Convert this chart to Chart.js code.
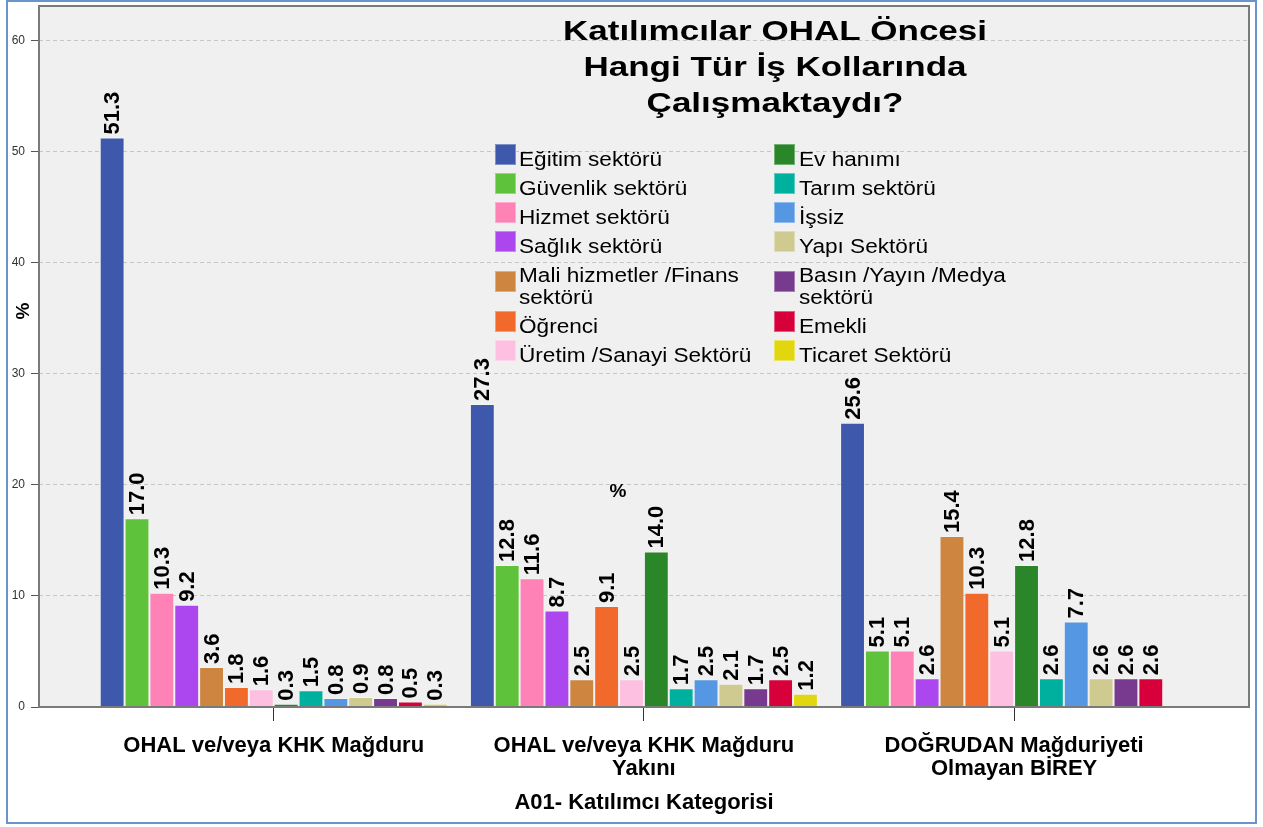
<!DOCTYPE html>
<html>
<head>
<meta charset="utf-8">
<script src="https://cdn.jsdelivr.net/npm/chart.js@4"></script>
<style>
  html, body { margin: 0; padding: 0; background: #fff; }
  #wrap { width: 1263px; height: 827px; }
</style>
</head>
<body>
<div id="wrap"><canvas id="isChart" width="1263" height="827"></canvas></div>
<script>
// Kategoriler (x ekseni)
const groupLabels = [
    ["OHAL ve/veya KHK Mağduru"],
    ["OHAL ve/veya KHK Mağduru", "Yakını"],
    ["DOĞRUDAN Mağduriyeti", "Olmayan BİREY"]
];
const yTicks = [0, 10, 20, 30, 40, 50, 60];

// Seriler (%), her biri üç kategori için
const seriesNames = [
    "Eğitim sektörü", "Güvenlik sektörü", "Hizmet sektörü", "Sağlık sektörü",
    "Mali hizmetler /Finans sektörü", "Öğrenci", "Üretim /Sanayi Sektörü",
    "Ev hanımı", "Tarım sektörü", "İşsiz", "Yapı Sektörü",
    "Basın /Yayın /Medya sektörü", "Emekli", "Ticaret Sektörü"
];
const egitim   = [51.3, 27.3, 25.6];
const guvenlik = [17.0, 12.8, 5.1];
const hizmet   = [10.3, 11.6, 5.1];
const saglik   = [9.2, 8.7, 2.6];
const mali     = [3.6, 2.5, 15.4];
const ogrenci  = [1.8, 9.1, 10.3];
const uretim   = [1.6, 2.5, 5.1];
const evHanimi = [0.3, 14.0, 12.8];
const tarim    = [1.5, 1.7, 2.6];
const issiz    = [0.8, 2.5, 7.7];
const yapi     = [0.9, 2.1, 2.6];
const basin    = [0.8, 1.7, 2.6];
const emekli   = [0.5, 2.5, 2.6];
const ticaret  = [0.3, 1.2, null];

const seriesValues = [egitim, guvenlik, hizmet, saglik, mali, ogrenci, uretim,
                      evHanimi, tarim, issiz, yapi, basin, emekli, ticaret];
const seriesColors = [
    "#3e58ac", "#5ec33a", "#fe82b6", "#ac47ef", "#cd853f", "#f2692c", "#fdc0e0",
    "#2a8629", "#00b09f", "#5597e2", "#cfca90", "#783a8f", "#d8003a", "#e2d70f"
];

const chartTitle = ["Katılımcılar OHAL Öncesi", "Hangi Tür İş Kollarında", "Çalışmaktaydı?"];
const xTitle = "A01- Katılımcı Kategorisi";
const FONT = "'Liberation Sans', Arial, sans-serif";

// stretched text helper (SPSS renders text a little wider)
function wideText(ctx, text, x, y, sx) {
    ctx.save();
    ctx.translate(x, y);
    ctx.scale(sx, 1);
    ctx.fillText(text, 0, 0);
    ctx.restore();
}

function wrapLabel(ctx, text, maxW, sx) {
    const words = text.split(" ");
    const lines = [];
    let cur = "";
    words.forEach(w => {
        const test = cur ? cur + " " + w : w;
        if (ctx.measureText(test).width * sx > maxW && cur) {
            lines.push(cur);
            cur = w;
        } else {
            cur = test;
        }
    });
    lines.push(cur);
    return lines;
}

const decorPlugin = {
    id: "decor",
    beforeDraw(chart) {
        const { ctx, chartArea: a } = chart;
        ctx.save();
        ctx.fillStyle = "#ffffff";
        ctx.fillRect(0, 0, chart.width, chart.height);
        ctx.fillStyle = "#f0f0f0";
        ctx.fillRect(a.left, a.top, a.right - a.left, a.bottom - a.top);
        ctx.strokeStyle = "#6a94cc";
        ctx.lineWidth = 2;
        ctx.strokeRect(7, 1, 1249, 822);
        ctx.restore();
    },
    afterDatasetsDraw(chart) {
        // değer etiketleri (dikey)
        const ctx = chart.ctx;
        ctx.save();
        ctx.fillStyle = "#000";
        ctx.font = "bold 22px " + FONT;
        ctx.textAlign = "left";
        ctx.textBaseline = "middle";
        chart.data.datasets.forEach((ds, i) => {
            const meta = chart.getDatasetMeta(i);
            meta.data.forEach((bar, j) => {
                const v = ds.data[j].y;
                if (v === null || v === undefined) return;
                ctx.save();
                ctx.translate(bar.x + 1, bar.y - 3);
                ctx.rotate(-Math.PI / 2);
                ctx.fillText(v.toFixed(1), 0, 0);
                ctx.restore();
            });
        });
        ctx.restore();
    },
    afterDraw(chart) {
        const { ctx, chartArea: a } = chart;
        ctx.save();
        // çerçeve
        ctx.strokeStyle = "#7a7a7a";
        ctx.lineWidth = 2;
        ctx.strokeRect(a.left, a.top, a.right - a.left, a.bottom - a.top);

        // başlık
        ctx.fillStyle = "#000";
        ctx.font = "bold 28px " + FONT;
        ctx.textAlign = "center";
        ctx.textBaseline = "alphabetic";
        chartTitle.forEach((line, k) => wideText(ctx, line, 775, 40 + k * 36, 1.25));

        // lejant (iki sütun)
        ctx.font = "20px " + FONT;
        ctx.textAlign = "left";
        const sx = 1.13;
        const cols = [{ sw: 495, tx: 519 }, { sw: 774, tx: 799 }];
        const perCol = Math.ceil(seriesNames.length / 2);
        cols.forEach((c, ci) => {
            let rowTop = 144;
            for (let r = 0; r < perCol; r++) {
                const idx = ci * perCol + r;
                if (idx >= seriesNames.length) break;
                const lines = wrapLabel(ctx, seriesNames[idx], 240, sx);
                const swTop = rowTop + (lines.length - 1) * 11;
                ctx.fillStyle = seriesColors[idx];
                ctx.fillRect(c.sw, swTop, 21, 21);
                ctx.strokeStyle = "rgba(255,255,255,0.35)";
                ctx.lineWidth = 1;
                ctx.strokeRect(c.sw + 0.5, swTop + 0.5, 20, 20);
                ctx.fillStyle = "#000";
                lines.forEach((ln, k) => wideText(ctx, ln, c.tx, rowTop + 22 + k * 22, sx));
                rowTop += 29 + (lines.length - 1) * 22;
            }
        });

        // eksen "%" işaretleri
        ctx.font = "bold 19px " + FONT;
        ctx.textAlign = "center";
        ctx.textBaseline = "middle";
        ctx.fillText("%", 618, 492);
        ctx.save();
        ctx.translate(24, 311);
        ctx.rotate(-Math.PI / 2);
        ctx.fillText("%", 0, 0);
        ctx.restore();
        ctx.restore();
    }
};

const datasets = seriesNames.map((name, i) => ({
    label: name,
    data: seriesValues[i].map((v, j) => ({ x: j, y: v })),
    backgroundColor: seriesColors[i],
    borderColor: "rgba(255,255,255,0.25)",
    borderWidth: 1,
    categoryPercentage: 0.94,
    barPercentage: 1.0
}));

new Chart(document.getElementById("isChart").getContext("2d"), {
    type: "bar",
    data: { datasets: datasets },
    options: {
        responsive: false,
        animation: false,
        devicePixelRatio: 1,
        layout: { padding: { left: 7, top: 6, right: 14, bottom: 0 } },
        plugins: {
            legend: { display: false },
            tooltip: { enabled: false }
        },
        scales: {
            x: {
                type: "linear",
                min: -0.634,
                max: 2.6345,
                offset: false,
                afterBuildTicks: s => { s.ticks = groupLabels.map((_, i) => ({ value: i })); },
                afterFit: s => { s.height = 120; },
                grid: {
                    display: true,
                    offset: false,
                    drawOnChartArea: false,
                    drawTicks: true,
                    tickLength: 14,
                    tickColor: "#333",
                    tickWidth: 1
                },
                border: { display: false },
                ticks: {
                    autoSkip: false,
                    maxRotation: 0,
                    padding: 13,
                    color: "#000",
                    font: { family: FONT, size: 22, weight: "bold", lineHeight: 1.05 },
                    callback: v => groupLabels[v]
                },
                title: {
                    display: true,
                    text: xTitle,
                    color: "#000",
                    font: { family: FONT, size: 22, weight: "bold" },
                    padding: { top: 0, bottom: 11 }
                }
            },
            y: {
                min: 0,
                max: 63.15,
                afterBuildTicks: s => { s.ticks = yTicks.map(v => ({ value: v })); },
                afterFit: s => { s.width = 32; s.paddingTop = 0; s.paddingBottom = 0; },
                grid: {
                    color: "#c6c6c6",
                    tickLength: 8,
                    tickColor: "#555",
                    tickBorderDash: []
                },
                border: { display: false, dash: [4, 3] },
                ticks: {
                    padding: 6,
                    color: "#333",
                    font: { family: FONT, size: 12 }
                }
            }
        }
    },
    plugins: [decorPlugin]
});
</script>
</body>
</html>
